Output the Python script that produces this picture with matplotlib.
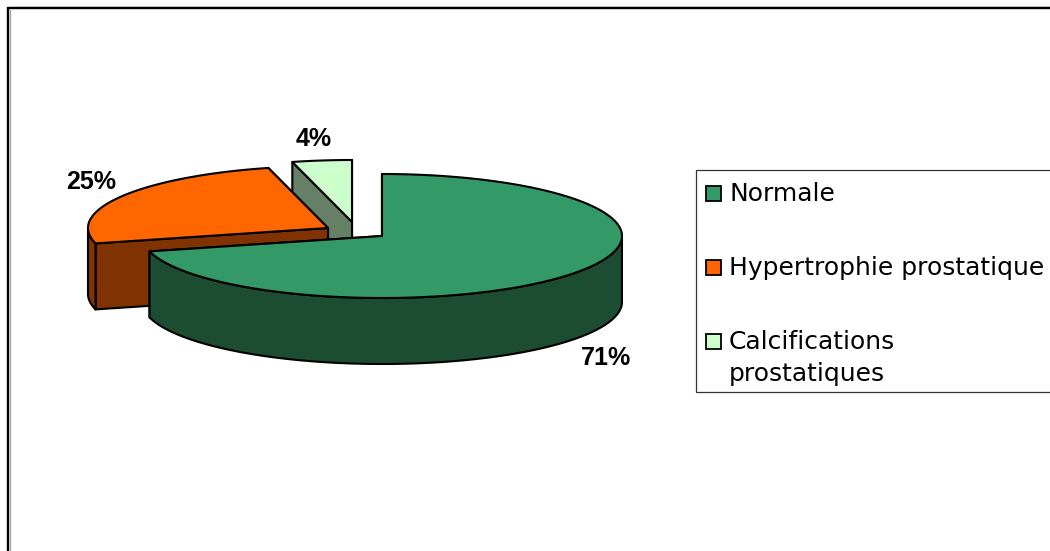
import matplotlib
matplotlib.use("Agg")
import matplotlib.pyplot as plt
import numpy as np
from matplotlib.patches import Rectangle

labels = ["Normale", "Hypertrophie prostatique", "Calcifications\nprostatiques"]
values = [71, 25, 4]
top_colors = ["#339966", "#FF6600", "#CCFFCC"]
side_colors = ["#1C4D33", "#803300", "#668066"]

# pixel layout of the exploded pie
centers = [(382, 236), (328, 228), (352, 222)]
label_pos = [(606, 358), (91, 182), (314, 139)]
rx, ry = 240, 62
depth = 66
legend_y = [193, 267, 341]
edge = 1.5


def rim(cx, cy, angles):
    a = np.radians(angles)
    return cx + rx * np.cos(a), cy - ry * np.sin(a)


fig = plt.figure(figsize=(10.5, 5.51), dpi=100)
ax = fig.add_axes([0, 0, 1, 1])
ax.set_xlim(0, 1050)
ax.set_ylim(551, 0)
ax.axis("off")

# chart frame, runs off the right and bottom of the picture
ax.plot([9.5, 1060], [7, 7], color="#888888", lw=1.0)
ax.plot([9.8, 9.8], [10, 560], color="#AAAAAA", lw=1.0)
ax.plot([8, 8, 1060], [560, 8.3, 8.3], color="black", lw=1.7, solid_joinstyle="miter")

# slices go clockwise from 12 o'clock, drawn back to front
fractions = np.array(values) / sum(values)
starts = 90 - 360 * np.concatenate(([0], np.cumsum(fractions)[:-1]))
order = [2, 1, 0]

for i in order:
    cx, cy = centers[i]
    a0 = starts[i]
    a1 = a0 - 360 * fractions[i]
    angles = np.linspace(a0, a1, 240)
    x, y = rim(cx, cy, angles)

    # cut faces, the one further back first
    for k in sorted((0, -1), key=lambda k: y[k]):
        fx = [cx, x[k], x[k], cx]
        fy = [cy, y[k], y[k] + depth, cy + depth]
        ax.fill(fx, fy, facecolor=side_colors[i], edgecolor="black", lw=edge, joinstyle="round")

    # outer wall, only the part facing the viewer
    front = np.sin(np.radians(angles)) <= 0
    if front.any():
        wx, wy = x[front], y[front]
        ax.fill(np.r_[wx, wx[::-1]], np.r_[wy, wy[::-1] + depth],
                facecolor=side_colors[i], edgecolor="black", lw=edge, joinstyle="round")

    # top
    ax.fill(np.r_[cx, x], np.r_[cy, y], facecolor=top_colors[i], edgecolor="black",
            lw=edge, joinstyle="round")

for v, (tx, ty) in zip(values, label_pos):
    ax.text(tx, ty, f"{v}%", ha="center", va="center", fontsize=18, fontweight="bold",
            family="Liberation Sans", color="black")

# legend box
ax.add_patch(Rectangle((696, 169.5), 380, 222, facecolor="white", edgecolor="#333333", lw=0.9))
for name, color, ly in zip(labels, top_colors, legend_y):
    ax.add_patch(Rectangle((706, ly - 7.5), 15, 15, facecolor=color, edgecolor="black", lw=1.3))
    ax.text(729, ly - 11, name, ha="left", va="top", fontsize=18, linespacing=1.42,
            family="DejaVu Sans", color="black")

fig.savefig("out.png", dpi=100)
